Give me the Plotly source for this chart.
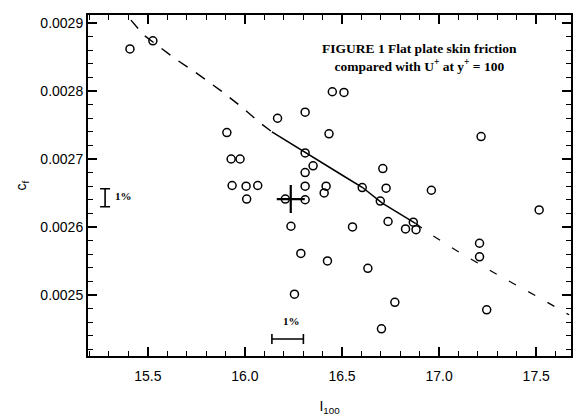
import plotly.graph_objects as go

# Measured skin friction coefficient c_f against U+ at y+ = 100
u100 = [15.408, 15.526, 16.450, 16.510, 16.310, 16.168, 15.907, 16.433, 16.310,
        15.929, 15.975, 16.351, 16.310, 16.710, 15.934, 16.006, 16.066, 16.310,
        16.418, 16.408, 16.604, 16.727, 16.960, 16.009, 16.208, 16.310, 16.697,
        17.216, 17.515, 16.737, 16.867, 16.827, 16.881, 17.208, 17.208, 16.772,
        17.245, 16.703, 16.237, 16.554, 16.288, 16.425, 16.633, 16.255]
cf = [0.002862, 0.002874, 0.002799, 0.002798, 0.002769, 0.002760, 0.002739,
      0.002737, 0.002709, 0.002700, 0.002700, 0.002690, 0.002680, 0.002686,
      0.002661, 0.002660, 0.002661, 0.002660, 0.002660, 0.002650, 0.002658,
      0.002657, 0.002654, 0.002641, 0.002641, 0.002640, 0.002638, 0.002733,
      0.002625, 0.002608, 0.002607, 0.002597, 0.002596, 0.002576, 0.002556,
      0.002489, 0.002478, 0.002450, 0.002601, 0.002600, 0.002561, 0.002550,
      0.002539, 0.002501]

# Reference point marked with a cross
cross_u = [16.236]
cf_cross = [0.002641]

# Correlation curve (solid over the range of the data, dashed beyond)
curve_u = [15.413, 15.479, 15.644, 15.751, 15.879, 15.977, 16.079, 16.139,
           16.310, 16.510, 16.604, 16.707, 16.878, 16.962, 17.085, 17.310,
           17.515, 17.669]
curve_cf = [0.0029044, 0.0028824, 0.002847, 0.0028265, 0.0028, 0.002778,
            0.002753, 0.00274, 0.0027093, 0.0026746, 0.0026584, 0.002635,
            0.0026054, 0.002588, 0.002566, 0.002528, 0.002496, 0.0024706]
solid_start, solid_end = 7, 12

# 1 % error indicators
err_v_u = 15.28
err_v_cf = 0.002643
err_h_u = 16.22
err_h_cf = 0.002435

fig = go.Figure()

dash_line = dict(color="black", width=1.4, dash="11px,10px")
fig.add_trace(go.Scatter(x=curve_u[:solid_start + 1], y=curve_cf[:solid_start + 1],
                         mode="lines", line=dash_line, hoverinfo="skip"))
fig.add_trace(go.Scatter(x=curve_u[solid_start:solid_end + 1],
                         y=curve_cf[solid_start:solid_end + 1],
                         mode="lines", line=dict(color="black", width=1.5),
                         hoverinfo="skip"))
fig.add_trace(go.Scatter(x=curve_u[solid_end:], y=curve_cf[solid_end:],
                         mode="lines", line=dict(color="black", width=1.2, dash="8px,14px"),
                         hoverinfo="skip"))

fig.add_trace(go.Scatter(x=u100, y=cf, mode="markers",
                         marker=dict(symbol="circle-open", size=8, color="black",
                                     line=dict(width=1.5, color="black"))))
fig.add_trace(go.Scatter(x=cross_u, y=cf_cross, mode="markers",
                         marker=dict(symbol="cross-thin-open", size=20, color="black",
                                     line=dict(width=2.2, color="black"))))

# vertical 1 % bar
fig.add_trace(go.Scatter(x=[err_v_u], y=[err_v_cf], mode="markers",
                         marker=dict(size=0.1, color="black"),
                         error_y=dict(type="percent", value=0.5, color="black",
                                      thickness=1.6, width=5)))
# horizontal 1 % bar
fig.add_trace(go.Scatter(x=[err_h_u], y=[err_h_cf], mode="markers",
                         marker=dict(size=0.1, color="black"),
                         error_x=dict(type="percent", value=0.5, color="black",
                                      thickness=1.6, width=5)))

serif = "Liberation Serif"
fig.add_annotation(x=15.32, y=err_v_cf + 0.000002, xref="x", yref="y", text="<b>1%</b>",
                   showarrow=False, xanchor="left",
                   font=dict(family=serif, size=11, color="black"))
fig.add_annotation(x=err_h_u + 0.02, y=err_h_cf + 0.000026, xref="x", yref="y",
                   text="<b>1%</b>", showarrow=False,
                   font=dict(family=serif, size=11, color="black"))
fig.add_annotation(x=16.90, y=0.00285, xref="x", yref="y",
                   text="<b>FIGURE 1 Flat plate skin friction<br>compared with U<sup>+</sup> at y<sup>+</sup> = 100</b>",
                   showarrow=False, align="center",
                   font=dict(family=serif, size=13.5, color="black"))

axis_common = dict(showline=True, linecolor="black", linewidth=2, mirror="ticks",
                   ticks="inside", ticklen=9, tickwidth=1.5, tickcolor="black",
                   showgrid=False, zeroline=False,
                   tickfont=dict(family="Liberation Sans", size=14, color="black"))

fig.update_xaxes(range=[15.192, 17.679], tick0=15.5, dtick=0.5, tickformat=".1f",
                 ticklabelstandoff=6,
                 minor=dict(dtick=0.1, ticks="inside", ticklen=5, tickwidth=1.3,
                            tickcolor="black", showgrid=False),
                 title=dict(text="I<sub>100</sub>", standoff=18,
                            font=dict(family="Liberation Sans", size=14, color="black")),
                 **axis_common)
fig.update_yaxes(range=[0.00241, 0.002912], tick0=0.0025, dtick=0.0001, tickformat=".4f",
                 minor=dict(dtick=0.00002, ticks="inside", ticklen=5, tickwidth=1.3,
                            tickcolor="black", showgrid=False),
                 title=dict(text="c<sub>f</sub>", standoff=10,
                            font=dict(family="Liberation Sans", size=14, color="black")),
                 **axis_common)

fig.update_layout(width=579, height=420, showlegend=False,
                  margin=dict(l=88, r=6, t=15, b=64),
                  paper_bgcolor="white", plot_bgcolor="white")

fig.write_html("out.html")
